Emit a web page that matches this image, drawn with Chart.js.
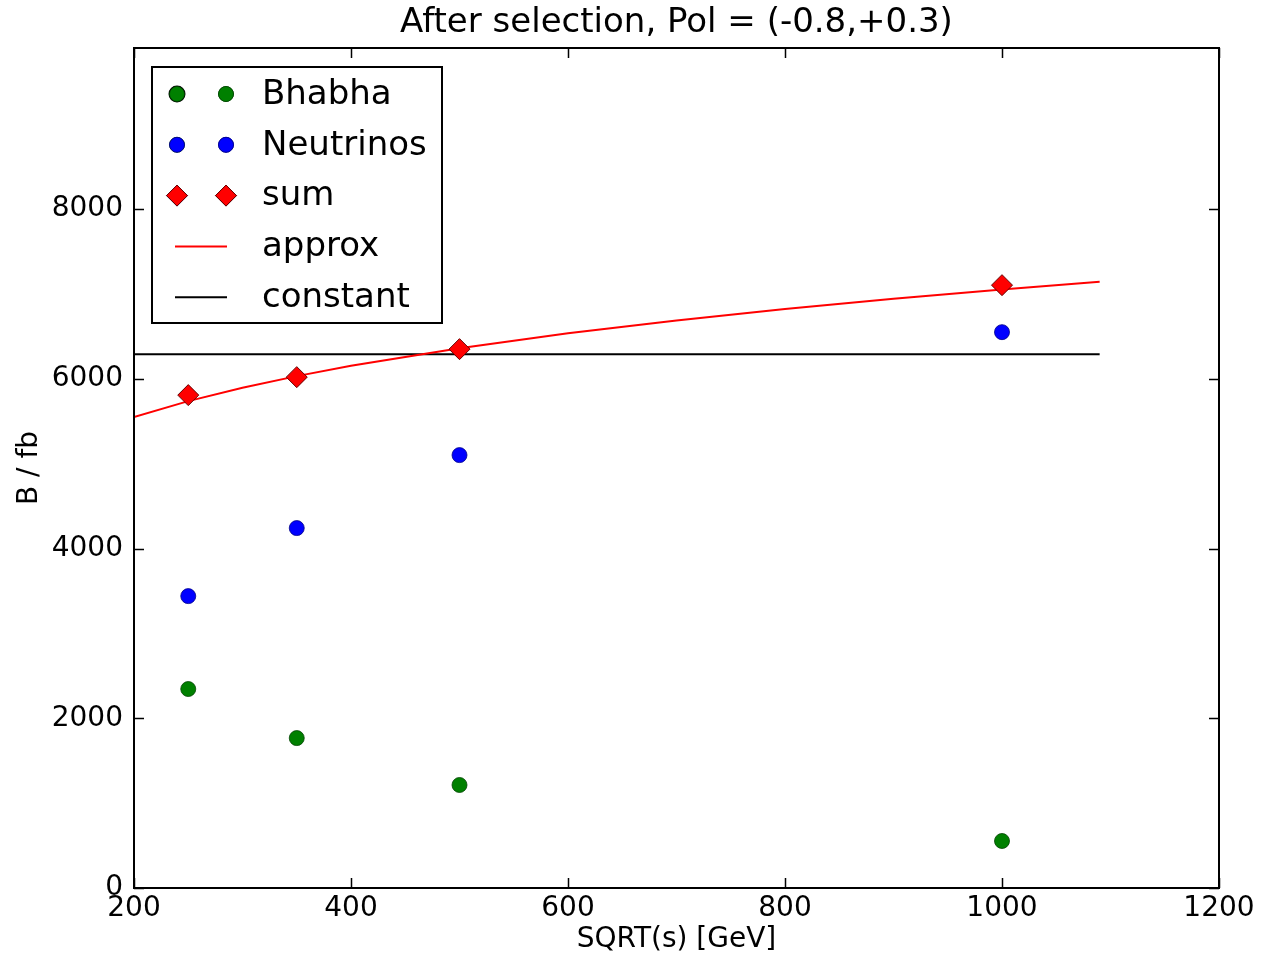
<!DOCTYPE html>
<html>
<head>
<meta charset="utf-8">
<script src="https://cdn.jsdelivr.net/npm/chart.js@4"></script>
<style>
  html, body { margin: 0; padding: 0; background: #fff; }
  #wrap { width: 1270px; height: 957px; }
</style>
</head>
<body>
<div id="wrap"><canvas id="myChart" width="1270" height="957"></canvas></div>
<script>
// data
let energies = [250, 350, 500, 1000];
let bhabha = [2345, 1767, 1214, 554];
let neutrinos = [3440, 4242, 5102, 6551];
let sum = [5809, 6021, 6351, 7105];

let approxX = [200, 250, 300, 350, 400, 500, 600, 700, 800, 900, 1000, 1090];
let approxY = [5550, 5738, 5896, 6033, 6154, 6362, 6538, 6688, 6823, 6945, 7054, 7144];

let constX = [200, 1090];
let constY = [6292, 6292];

let xTicks = [200, 400, 600, 800, 1000, 1200];
let yTicks = [0, 2000, 4000, 6000, 8000];

let titleText = "After selection, Pol = (-0.8,+0.3)";
let xLabel = "SQRT(s) [GeV]";
let yLabel = "B / fb";

const FONT = "'DejaVu Sans', sans-serif";

function pts(xs, ys) {
    return xs.map(function(x, i) { return { x: x, y: ys[i] }; });
}

// frame, inward ticks on all four sides, title and axis titles
const framePlugin = {
    id: 'frame',
    afterDraw: function(chart) {
        let ctx = chart.ctx;
        let a = chart.chartArea;
        let xs = chart.scales.x, ys = chart.scales.y;
        ctx.save();
        ctx.strokeStyle = '#000';
        ctx.lineWidth = 1.5;
        xTicks.forEach(function(v) {
            let px = Math.round(xs.getPixelForValue(v)) + 0.5;
            ctx.beginPath();
            ctx.moveTo(px, a.bottom); ctx.lineTo(px, a.bottom - 10);
            ctx.moveTo(px, a.top); ctx.lineTo(px, a.top + 10);
            ctx.stroke();
        });
        yTicks.forEach(function(v) {
            let py = Math.round(ys.getPixelForValue(v)) + 0.5;
            ctx.beginPath();
            ctx.moveTo(a.left, py); ctx.lineTo(a.left + 10, py);
            ctx.moveTo(a.right, py); ctx.lineTo(a.right - 10, py);
            ctx.stroke();
        });
        ctx.lineWidth = 2;
        ctx.strokeRect(a.left, a.top, a.right - a.left, a.bottom - a.top);

        ctx.fillStyle = '#000';
        ctx.textAlign = 'center';
        ctx.textBaseline = 'middle';
        ctx.font = '34px ' + FONT;
        ctx.fillText(titleText, (a.left + a.right) / 2, 23);
        ctx.font = '28px ' + FONT;
        ctx.fillText(xLabel, (a.left + a.right) / 2, 940);
        ctx.translate(30, (a.top + a.bottom) / 2);
        ctx.rotate(-Math.PI / 2);
        ctx.fillText(yLabel, 0, 0);
        ctx.restore();
    }
};

// matplotlib style legend with two markers per entry
const legendPlugin = {
    id: 'mplLegend',
    afterDraw: function(chart) {
        let ctx = chart.ctx;
        ctx.save();
        ctx.fillStyle = '#fff';
        ctx.fillRect(152, 67, 290, 256);
        ctx.strokeStyle = '#000';
        ctx.lineWidth = 2;
        ctx.strokeRect(152, 67, 290, 256);
        ctx.font = '34px ' + FONT;
        ctx.textAlign = 'left';
        ctx.textBaseline = 'middle';
        chart.data.datasets.forEach(function(ds, i) {
            let y = 94 + i * 50.8;
            if (ds.showLine) {
                ctx.strokeStyle = ds.borderColor;
                ctx.lineWidth = ds.borderWidth;
                ctx.beginPath();
                ctx.moveTo(175, y); ctx.lineTo(227, y);
                ctx.stroke();
            } else {
                [177, 226].forEach(function(x) {
                    Chart.helpers.drawPoint(ctx, {
                        pointStyle: ds.pointStyle,
                        radius: ds.pointRadius,
                        borderWidth: ds.borderWidth,
                        rotation: 0
                    }, x, y);
                    ctx.fillStyle = ds.backgroundColor;
                    ctx.strokeStyle = ds.borderColor;
                    ctx.lineWidth = ds.borderWidth;
                    ctx.fill();
                    ctx.stroke();
                });
            }
            ctx.fillStyle = '#000';
            ctx.fillText(ds.label, 262, y + 1);
        });
        ctx.restore();
    }
};

let ctx = document.getElementById('myChart').getContext('2d');
let myChart = new Chart(ctx, {
    type: 'scatter',
    data: {
        datasets: [
            {
                label: 'Bhabha',
                data: pts(energies, bhabha),
                pointStyle: 'circle',
                pointRadius: 7.5,
                backgroundColor: '#008000',
                borderColor: '#004400',
                borderWidth: 0.8,
                order: 1
            },
            {
                label: 'Neutrinos',
                data: pts(energies, neutrinos),
                pointStyle: 'circle',
                pointRadius: 7.5,
                backgroundColor: '#0000ff',
                borderColor: '#000088',
                borderWidth: 0.8,
                order: 1
            },
            {
                label: 'sum',
                data: pts(energies, sum),
                pointStyle: 'rectRot',
                pointRadius: 10.5,
                backgroundColor: '#ff0000',
                borderColor: '#660000',
                borderWidth: 1,
                order: 1
            },
            {
                label: 'approx',
                data: pts(approxX, approxY),
                showLine: true,
                pointRadius: 0,
                borderColor: '#ff0000',
                borderWidth: 2,
                tension: 0,
                order: 2
            },
            {
                label: 'constant',
                data: pts(constX, constY),
                showLine: true,
                pointRadius: 0,
                borderColor: '#000000',
                borderWidth: 2,
                order: 2
            }
        ]
    },
    options: {
        responsive: false,
        animation: false,
        events: [],
        layout: { padding: { top: 48, right: 51, left: 0, bottom: 0 } },
        plugins: {
            legend: { display: false },
            tooltip: { enabled: false },
            title: { display: false }
        },
        scales: {
            x: {
                type: 'linear',
                min: 200,
                max: 1200,
                afterBuildTicks: function(s) { s.ticks = xTicks.map(function(v) { return { value: v }; }); },
                afterFit: function(s) { s.height = 69; },
                grid: { display: false, drawTicks: false },
                border: { display: false },
                ticks: {
                    color: '#000',
                    font: { family: FONT, size: 28 },
                    padding: 4,
                    maxRotation: 0,
                    callback: function(v) { return String(v); }
                }
            },
            y: {
                type: 'linear',
                min: 0,
                max: 9900,
                afterBuildTicks: function(s) { s.ticks = yTicks.map(function(v) { return { value: v }; }); },
                afterFit: function(s) { s.width = 134; },
                grid: { display: false, drawTicks: false },
                border: { display: false },
                ticks: {
                    color: '#000',
                    font: { family: FONT, size: 28 },
                    padding: 11,
                    callback: function(v) { return String(v); }
                }
            }
        }
    },
    plugins: [framePlugin, legendPlugin]
});
</script>
</body>
</html>
